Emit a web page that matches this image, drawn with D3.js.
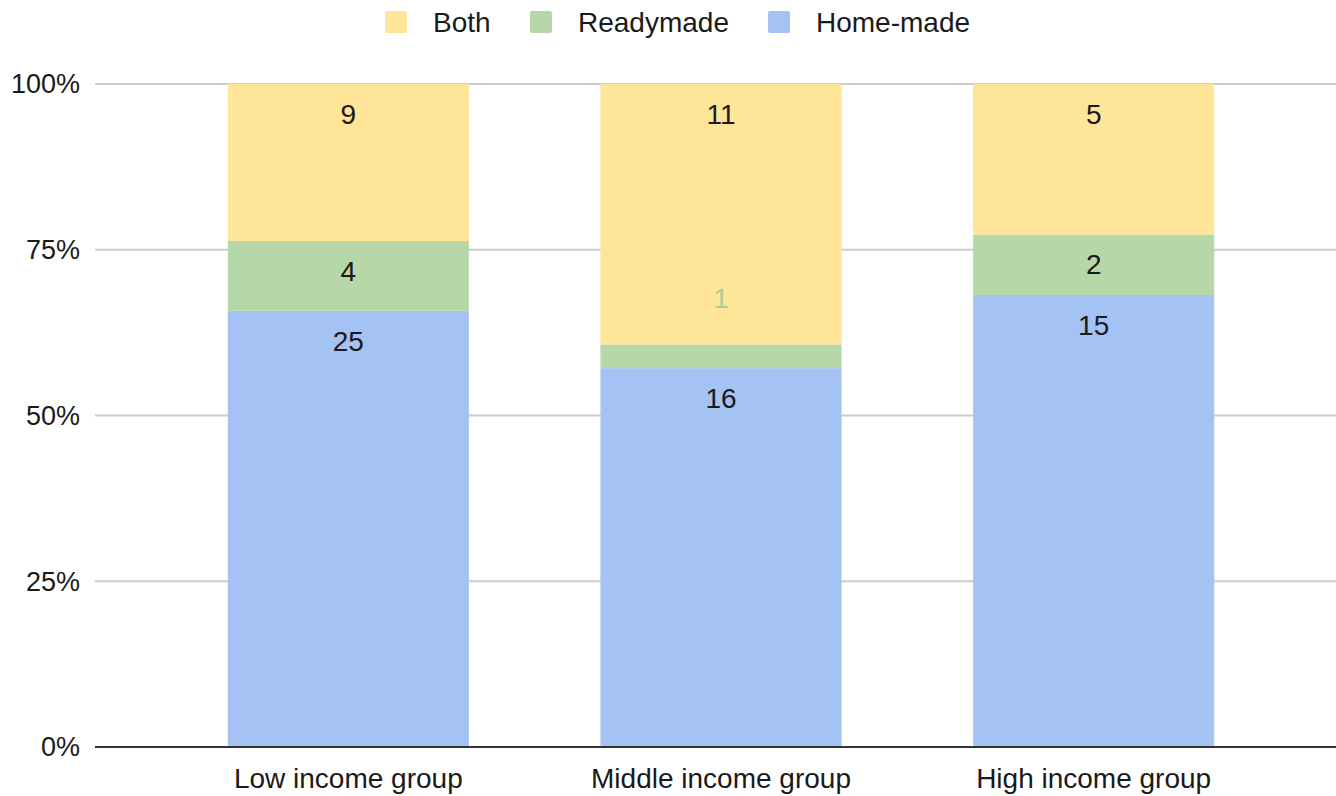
<!DOCTYPE html>
<meta charset="utf-8">
<html>
<head>
  <style>
    body { margin: 0; background: #fff; font-family: "Liberation Sans", Arial, sans-serif; }
    svg { display: block; }
  </style>
</head>
<body>
<svg width="1336" height="796"></svg>
<script src="https://d3js.org/d3.v7.min.js"></script>
<script>
  const groups = ["Low income group", "Middle income group", "High income group"];
  const homeMade = [25, 16, 15];
  const readymade = [4, 1, 2];
  const both = [9, 11, 5];
  const yTicks = [0, 0.25, 0.5, 0.75, 1];

  const series = [
    { key: "Home-made", values: homeMade, color: "#a4c2f4" },
    { key: "Readymade", values: readymade, color: "#b6d7a8" },
    { key: "Both", values: both, color: "#fee598" }
  ];

  const svg = d3.select("svg");
  const plotLeft = 95, plotRight = 1336, plotTop = 84, plotBottom = 747;

  const x = d3.scaleBand()
    .domain(groups)
    .range([162, 1280])
    .paddingInner(0.353)
    .paddingOuter(0.1765);

  const y = d3.scaleLinear().domain([0, 1]).range([plotBottom, plotTop]);

  // gridlines
  svg.append("g")
    .selectAll("line")
    .data(yTicks.filter(d => d > 0))
    .enter().append("line")
    .attr("x1", plotLeft).attr("x2", plotRight)
    .attr("y1", d => y(d)).attr("y2", d => y(d))
    .attr("stroke", "#cccccc")
    .attr("stroke-width", 2);

  // tick labels
  svg.append("g")
    .selectAll("text")
    .data(yTicks)
    .enter().append("text")
    .attr("x", 80)
    .attr("y", d => y(d))
    .attr("dy", "0.35em")
    .attr("text-anchor", "end")
    .attr("font-size", 27)
    .attr("fill", "#1a1a1a")
    .text(d3.format(".0%"));

  // stack
  const rows = groups.map((g, i) => {
    const total = series.reduce((s, se) => s + se.values[i], 0);
    let acc = 0;
    return series.map(se => {
      const v = se.values[i];
      const seg = { group: g, key: se.key, color: se.color, v, y0: acc / total, y1: (acc + v) / total };
      acc += v;
      return seg;
    });
  });
  const segs = rows.flat();

  svg.append("g")
    .selectAll("rect")
    .data(segs)
    .enter().append("rect")
    .attr("x", d => x(d.group))
    .attr("width", x.bandwidth())
    .attr("y", d => y(d.y1))
    .attr("height", d => y(d.y0) - y(d.y1))
    .attr("fill", d => d.color);

  // value labels
  svg.append("g")
    .selectAll("text")
    .data(segs)
    .enter().append("text")
    .attr("x", d => x(d.group) + x.bandwidth() / 2)
    .attr("y", d => {
      const h = y(d.y0) - y(d.y1);
      return h < 40 ? y(d.y1) - 46 : y(d.y1) + 30;
    })
    .attr("dy", "0.35em")
    .attr("text-anchor", "middle")
    .attr("font-size", 28)
    .attr("fill", d => (y(d.y0) - y(d.y1)) < 40 ? "#a9cf9b" : "#1a1a1a")
    .text(d => d.v);

  // baseline
  svg.append("line")
    .attr("x1", plotLeft).attr("x2", plotRight)
    .attr("y1", plotBottom).attr("y2", plotBottom)
    .attr("stroke", "#333")
    .attr("stroke-width", 2);

  // x labels
  svg.append("g")
    .selectAll("text")
    .data(groups)
    .enter().append("text")
    .attr("x", d => x(d) + x.bandwidth() / 2)
    .attr("y", 778)
    .attr("dy", "0.35em")
    .attr("text-anchor", "middle")
    .attr("font-size", 28)
    .attr("fill", "#1a1a1a")
    .text(d => d);

  // legend
  const legendItems = [series[2], series[1], series[0]];
  const legendX = [385, 530, 768];
  const lg = svg.append("g")
    .selectAll("g")
    .data(legendItems)
    .enter().append("g")
    .attr("transform", (d, i) => `translate(${legendX[i]},11)`);
  lg.append("rect")
    .attr("width", 22).attr("height", 22).attr("rx", 2)
    .attr("fill", d => d.color);
  lg.append("text")
    .attr("x", 48).attr("y", 11)
    .attr("dy", "0.35em")
    .attr("font-size", 28)
    .attr("fill", "#1a1a1a")
    .text(d => d.key);
</script>
</body>
</html>
